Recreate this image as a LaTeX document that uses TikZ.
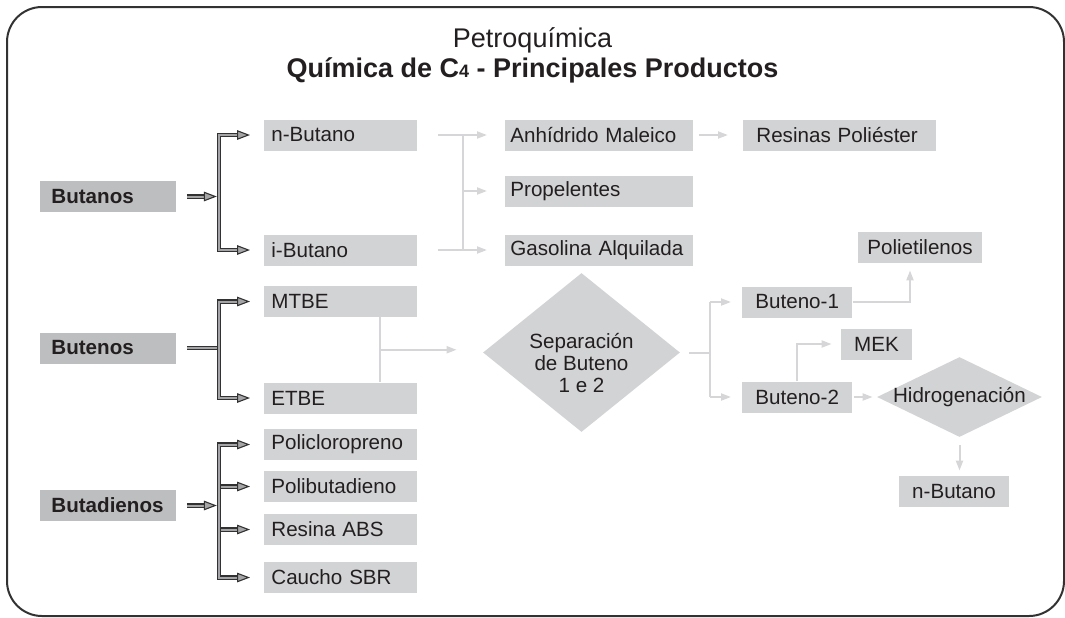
\documentclass[tikz,border=0pt]{standalone}
\usepackage{fontspec}
\setmainfont{Liberation Sans}
\usepackage{tikz}
\usetikzlibrary{shapes.geometric, positioning, arrows.meta, calc}

\definecolor{boxgray}{RGB}{210,211,213}
\definecolor{grpgray}{RGB}{189,190,192}
\definecolor{ink}{RGB}{35,31,32}
\definecolor{pale}{RGB}{214,214,216}
\definecolor{darkline}{RGB}{50,50,50}
\definecolor{midgray}{RGB}{165,165,167}

\begin{document}
\begin{tikzpicture}[
    x=0.5pt, y=-0.5pt,
    every node/.style={text=ink, font=\fontsize{10.3}{12}\selectfont},
    ttl/.style={font=\fontsize{13.5}{15}\selectfont},
    grp/.style={fill=grpgray, anchor=west, minimum height=15.5pt, inner ysep=0pt,
        inner xsep=5.5pt, text width=57pt, align=left, font=\fontsize{10.3}{12}\selectfont\bfseries},
    prod/.style={fill=boxgray, anchor=west, minimum height=15.5pt, inner ysep=0pt, align=left},
    short/.style={prod, inner xsep=3.5pt, text width=69.5pt},
    wide/.style={prod, inner xsep=2.5pt, text width=89pt},
    resbox/.style={prod, inner xsep=6.5pt, text width=83.5pt},
    bute/.style={prod, inner xsep=6.5pt, text width=42pt},
    cbox/.style={fill=boxgray, minimum height=15.5pt, inner sep=0pt},
    diam/.style={diamond, fill=boxgray, inner sep=0pt},
    dline/.style={draw=darkline, line width=0.55pt, double=midgray, double distance=1pt},
    darr/.style={dline, -{Triangle[open, fill=midgray, length=6.5pt, width=4.8pt]}},
    lline/.style={draw=pale, line width=1pt},
    larr/.style={lline, -{Triangle[length=5pt, width=3.5pt]}}
]
\useasboundingbox (0,0) rectangle (1065,617);
\draw[line width=1pt, draw=darkline, rounded corners=17.5pt] (7,7) rectangle (1064,616);

% title
\node[ttl, anchor=base] (ttl) at (532.5,47) {Petroquímica};
\node[ttl, font=\fontsize{13.5}{15}\selectfont\bfseries, below=15pt of ttl.base, anchor=base] (sub)
    {Química de C{\fontsize{9}{10}\selectfont 4} - Principales Productos};

% groups
\node[grp] (butanos) at (40,196.5) {Butanos};
\node[grp] (butenos) at (40,348) {Butenos};
\node[grp] (butadienos) at (40,505.5) {Butadienos};

% first products
\node[short] (nbutano) at (264,135) {n-Butano};
\node[short] (ibutano) at (264,250) {i-Butano};
\node[short] (mtbe) at (264,301.5) {MTBE};
\node[short] (etbe) at (264,398) {ETBE};
\node[short] (policlo) at (264,444.5) {Policloropreno};
\node[short] (polibut) at (264,486.5) {Polibutadieno};
\node[short] (resina) at (264,529.5) {Resina ABS};
\node[short] (caucho) at (264,577.5) {Caucho SBR};

% second products
\node[wide] (anhidrido) at (505,135) {Anhídrido Maleico};
\node[wide] (propel) at (505,191) {Propelentes};
\node[wide] (gasolina) at (505,250) {Gasolina Alquilada};
\node[resbox] (resinas) at (743,135) {Resinas Poliéster};

\node[diam, minimum width=98.5pt, minimum height=79.5pt,
    label={[align=center, yshift=-5.25pt, font=\fontsize{10.3}{10.8}\selectfont]center:Separación\\de Buteno\\1 e 2}] (sep) at (581.5,352.5) {};

\node[bute] (buteno1) at (742,302) {Buteno-1};
\node[bute] (buteno2) at (742,397) {Buteno-2};
\node[cbox, minimum width=62pt] (polietil) at (920,247.5) {Polietilenos};
\node[cbox, minimum width=35.5pt] (mek) at (876.5,344) {MEK};
\node[diam, minimum width=82.5pt, minimum height=40pt, label=center:Hidrogenación] (hidro) at (959.5,397) {};
\node[cbox, minimum width=55pt] (nbutano2) at (954,491.5) {n-Butano};

% Butanos
\coordinate (bA) at ([xshift=21pt]butanos.east);
\draw[darr, shorten <=5pt, shorten >=1pt] (butanos) -- (bA);
\draw[darr, shorten >=7pt] (bA) |- (nbutano);
\draw[darr, shorten >=7pt] (bA) |- (ibutano);

% Butenos
\coordinate (bB) at ([xshift=21pt]butenos.east);
\draw[dline, shorten <=5pt] (butenos) -- (bB);
\draw[darr, shorten >=7pt] (bB) |- (mtbe);
\draw[darr, shorten >=7pt] (bB) |- (etbe);

% Butadienos
\coordinate (bC) at ([xshift=21pt]butadienos.east);
\draw[darr, shorten <=5pt, shorten >=1pt] (butadienos) -- (bC);
\draw[darr, shorten >=7pt] (bC) |- (policlo);
\draw[darr, shorten >=7pt] (bC) |- (caucho);
\draw[darr, shorten >=7pt] ([xshift=1pt]bC |- polibut) -- (polibut);
\draw[darr, shorten >=7pt] ([xshift=1pt]bC |- resina) -- (resina);

% butanos to products
\coordinate (jA) at ([xshift=22.5pt]nbutano.east);
\coordinate (jB) at ([xshift=22.5pt]ibutano.east);
\draw[lline] (jA) -- (jB);
\draw[larr, shorten <=10pt, shorten >=9pt] (nbutano) -- (anhidrido);
\draw[larr, shorten <=10pt, shorten >=9pt] (ibutano) -- (gasolina);
\draw[larr, shorten >=9pt] (jA |- propel) -- (propel);
\draw[larr, shorten <=2.5pt, shorten >=7.5pt] (anhidrido) -- (resinas);

% ethers to separation
\coordinate (jM) at ($(mtbe.south east)!0.5!(etbe.north east)+(-38,0)$);
\draw[lline] (jM |- mtbe.south) -- (jM |- etbe.north);
\draw[larr, shorten >=13pt] (jM) -- (jM -| sep.west);

% separation to butenes
\coordinate (jS) at ([xshift=15pt]sep.east);
\draw[lline, shorten <=4.5pt] (sep.east) -- (jS);
\draw[lline] (jS |- buteno1) -- (jS |- buteno2);
\draw[larr, shorten >=5.5pt] (jS |- buteno1) -- (buteno1);
\draw[larr, shorten >=5.5pt] (jS |- buteno2) -- (buteno2);

% butene products
\draw[larr, shorten >=3.5pt] (buteno1.east) -| ([xshift=-5pt]polietil.south);
\draw[larr, shorten >=4.5pt] (buteno2.north) |- (mek.west);
\draw[larr, shorten <=0.5pt, shorten >=2pt] (buteno2) -- (hidro);
\draw[larr, shorten <=4pt, shorten >=2.5pt] (hidro.south) -- (hidro.south |- nbutano2.north);
\end{tikzpicture}
\end{document}
